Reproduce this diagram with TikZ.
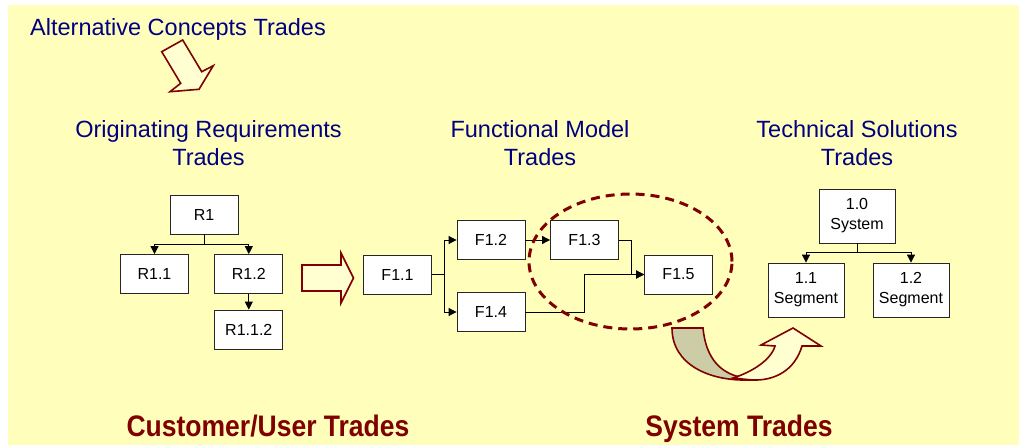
\documentclass[tikz,border=0pt]{standalone}
\usepackage{fontspec}
\setmainfont{Liberation Sans}
\usetikzlibrary{arrows.meta,positioning,shapes.geometric}
\definecolor{bgyellow}{HTML}{FFFFBB}
\definecolor{darkred}{HTML}{800000}
\definecolor{navyblue}{HTML}{000080}
\definecolor{paleyellow}{HTML}{FFFFD2}
\definecolor{khaki}{HTML}{CCCCA6}

\begin{document}
\begin{tikzpicture}[x=1pt, y=-1pt,
			box/.style     = {draw=black!85, fill=white, line width=0.8pt, minimum width=68pt, minimum height=39pt, inner sep=0pt, font=\fontsize{16}{20}\selectfont, align=center},
			bigbox/.style  = {box, minimum width=76pt, minimum height=54pt},
			heading/.style = {text=navyblue, font=\fontsize{23.5}{27.5}\selectfont, align=center, inner sep=0pt},
			footer/.style  = {text=darkred, font=\bfseries\fontsize{26.5}{30}\selectfont, inner sep=0pt},
			blockarrow/.style = {draw=darkred, line width=1.6pt, fill=paleyellow, line join=miter},
			link/.style    = {-{Triangle[length=8pt,width=8pt]}, line width=0.8pt},
			>=latex]
			
			% page and background
			\useasboundingbox (0,0) rectangle (1021,445);
			\fill[bgyellow] (8,5) rectangle (1019,445);
			
			% headings
			\node[heading, anchor=base west] (alt) at (30,35) {Alternative Concepts Trades};
			\node[heading, anchor=base] (hreq) at (208.5,165) {Originating Requirements\\Trades};
			\node[heading, anchor=base] (hfun) at (540,165) {Functional Model\\Trades};
			\node[heading, anchor=base] (htec) at (857,165) {Technical Solutions\\Trades};
			
			% requirements tree
			\node[box] (R1)   at (204,214.5) {R1};
			\node[box] (R11)  at (154.5,274) {R1.1};
			\node[box] (R12)  at (248.8,274) {R1.2};
			\node[box] (R112) at (248.8,329.5) {R1.1.2};
			
			% functional model
			\node[box] (F11) at (397.5,274.5) {F1.1};
			\node[box] (F12) at (491,240) {F1.2};
			\node[box] (F14) at (491,312) {F1.4};
			\node[box] (F13) at (584.5,240) {F1.3};
			\node[box] (F15) at (678.5,274.5) {F1.5};
			
			% technical solutions
			\node[bigbox] (S10) at (857,216) {1.0\\System};
			\node[bigbox] (S11) at (806,290) {1.1\\Segment};
			\node[bigbox] (S12) at (911,290) {1.2\\Segment};
			
			% lines from each parent to its children
			\draw[line width=0.8pt] (R1.south) -- ++(0,10) coordinate (rj);
			\foreach \child in {R11,R12}
			\draw[link] (rj) -| (\child.north);
			\draw[link] (R12) -- (R112);
			
			\draw[line width=0.8pt] (F11.east) -- ++(12,0) coordinate (fj);
			\foreach \child in {F12,F14}
			\draw[link] (fj) |- (\child.west);
			\draw[link] (F12) -- (F13);
			\draw[link] (F13.east) -- ++(12,0) |- (F15.west);
			\draw[link] (F14.east) -- ++(59,0) |- (F15.west);
			
			\draw[line width=0.8pt] (S10.south) -- ++(0,9) coordinate (sj);
			\foreach \child in {S11,S12}
			\draw[link] (sj) -| (\child.north);
			
			% system trades region
			\node[ellipse, draw=darkred, line width=3pt, dash pattern=on 9pt off 6pt, minimum width=203pt, minimum height=135pt] (focus) at (630.5,261.5) {};
			
			% block arrows
			\draw[blockarrow] (161.7,51.7) -- (182.7,40) -- (201.7,71.7) -- (213.3,65.7) -- (199,89.3) -- (170,91.7) -- (180.7,83.3) -- cycle;
			\draw[blockarrow] (302,265) -- (341,265) -- (341,253) -- (353.5,278) -- (341,303) -- (341,291) -- (302,291) -- cycle;
			
			% curved arrow from the functional model to the solutions
			\draw[blockarrow, fill=khaki] (672,328) -- (703,328) .. controls (706,360) and (722,373) .. (740,377) -- (748,380) .. controls (710,381) and (672,365) .. (672,328) -- cycle;
			\draw[blockarrow] (733,378) .. controls (752,372) and (771,360) .. (775,346) -- (761,345) -- (793,328) -- (821,346) -- (802,346) .. controls (795,370) and (775,381) .. (752,380) -- cycle;
			
			% bottom captions
			\node[footer, anchor=base] (cut) at (268,436) {\scalebox{1}[1.12]{Customer/User Trades}};
			\node[footer, anchor=base] (syt) at (739,436) {\scalebox{1}[1.12]{System Trades}};
		\end{tikzpicture}
\end{document}
